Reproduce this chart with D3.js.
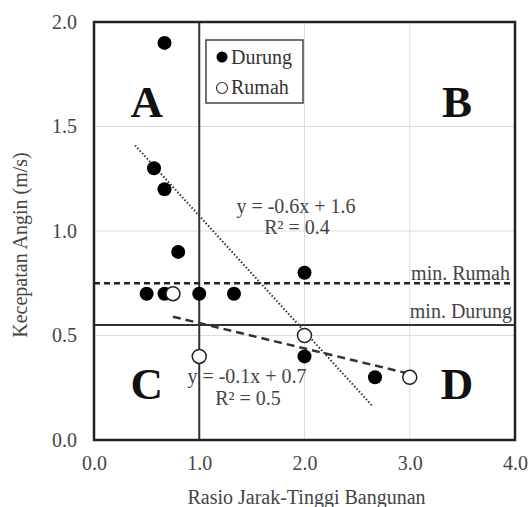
<!DOCTYPE html>
<html><head><meta charset="utf-8">
<script src="https://cdn.jsdelivr.net/npm/d3@7"></script>
<style>body{margin:0;background:#fff}svg{display:block}</style>
</head><body>
<script>
const durungX = [0.67, 0.57, 0.67, 0.80, 0.50, 0.67, 1.00, 1.33, 2.00, 2.00, 2.67];
const durungY = [1.90, 1.30, 1.20, 0.90, 0.70, 0.70, 0.70, 0.70, 0.80, 0.40, 0.30];
const rumahX = [0.75, 1.00, 2.00, 3.00];
const rumahY = [0.70, 0.40, 0.50, 0.30];
const trendDurung = [[0.39, 1.41], [2.65, 0.16]];
const trendRumah = [[0.75, 0.59], [2.97, 0.32]];
const minRumah = 0.75, minDurung = 0.55, splitX = 1.0;
const xTicks = [0, 1, 2, 3, 4];
const yTicks = [0, 0.5, 1.0, 1.5, 2.0];
const quadrants = [["A", 0.5, 1.55], ["B", 3.45, 1.55], ["C", 0.5, 0.2], ["D", 3.45, 0.2]];

const W = 530, H = 507;
const m = {l: 94, r: 15, t: 22, b: 67};
const FONT = "'Liberation Serif', 'Times New Roman', serif";
const svg = d3.select("body").append("svg").attr("width", W).attr("height", H)
  .style("font-family", FONT);
const x = d3.scaleLinear().domain([0, 4]).range([m.l, W - m.r]);
const y = d3.scaleLinear().domain([0, 2]).range([H - m.b, m.t]);

// grid
svg.append("g").selectAll("line").data(xTicks.slice(1, -1)).join("line")
  .attr("x1", d => x(d)).attr("x2", d => x(d)).attr("y1", y(0)).attr("y2", y(2))
  .attr("stroke", "#ddd").attr("stroke-width", 1);
svg.append("g").selectAll("line").data(yTicks.slice(1, -1)).join("line")
  .attr("y1", d => y(d)).attr("y2", d => y(d)).attr("x1", x(0)).attr("x2", x(4))
  .attr("stroke", "#ddd").attr("stroke-width", 1);

// axes labels via d3 axes
const xa = svg.append("g").attr("transform", `translate(0,${y(0)})`)
  .call(d3.axisBottom(x).tickValues(xTicks).tickFormat(d3.format(".1f")).tickSize(0).tickPadding(16));
const ya = svg.append("g").attr("transform", `translate(${x(0)},0)`)
  .call(d3.axisLeft(y).tickValues(yTicks).tickFormat(d3.format(".1f")).tickSize(0).tickPadding(17));
[xa, ya].forEach(a => {
  a.attr("font-family", FONT).attr("font-size", 20);
  a.select(".domain").remove();
  a.selectAll("text").attr("fill", "#444");
});

// reference lines
svg.append("line").attr("x1", x(splitX)).attr("x2", x(splitX)).attr("y1", y(0)).attr("y2", y(2))
  .attr("stroke", "#333").attr("stroke-width", 2);
svg.append("line").attr("x1", x(0)).attr("x2", x(4)).attr("y1", y(minDurung)).attr("y2", y(minDurung))
  .attr("stroke", "#333").attr("stroke-width", 2);
svg.append("line").attr("x1", x(0)).attr("x2", x(4)).attr("y1", y(minRumah)).attr("y2", y(minRumah))
  .attr("stroke", "#222").attr("stroke-width", 2.5).attr("stroke-dasharray", "6,4");

// frame
svg.append("rect").attr("x", x(0)).attr("y", y(2)).attr("width", x(4) - x(0)).attr("height", y(0) - y(2))
  .attr("fill", "none").attr("stroke", "#222").attr("stroke-width", 2.5);

// trendlines
const line = d3.line().x(d => x(d[0])).y(d => y(d[1]));
svg.append("path").attr("d", line(trendDurung)).attr("fill", "none")
  .attr("stroke", "#333").attr("stroke-width", 2).attr("stroke-dasharray", "1.5,2");
svg.append("path").attr("d", line(trendRumah)).attr("fill", "none")
  .attr("stroke", "#333").attr("stroke-width", 2.5).attr("stroke-dasharray", "8,5");

// points
svg.append("g").selectAll("circle").data(durungX.map((d, i) => [d, durungY[i]])).join("circle")
  .attr("cx", d => x(d[0])).attr("cy", d => y(d[1])).attr("r", 7).attr("fill", "#000");
svg.append("g").selectAll("circle").data(rumahX.map((d, i) => [d, rumahY[i]])).join("circle")
  .attr("cx", d => x(d[0])).attr("cy", d => y(d[1])).attr("r", 7)
  .attr("fill", "#fff").attr("stroke", "#222").attr("stroke-width", 1.5);

// quadrant letters
svg.append("g").selectAll("text").data(quadrants).join("text")
  .attr("x", d => x(d[1])).attr("y", d => y(d[2]) + 1).attr("text-anchor", "middle")
  .attr("font-size", 45).attr("font-weight", "bold").attr("fill", "#111").text(d => d[0]);

// equation labels
const lab = (t, px, py, anchor) => svg.append("text").attr("x", px).attr("y", py)
  .attr("text-anchor", anchor || "middle").attr("font-size", 20).attr("fill", "#444").text(t);
lab("y = -0.6x + 1.6", 296, 213);
lab("R² = 0.4", 297, 234);
lab("y = -0.1x + 0.7", 247, 383);
lab("R² = 0.5", 248, 405);
lab("min. Rumah", 510, 280, "end");
lab("min. Durung", 512, 318, "end");

// legend
svg.append("rect").attr("x", 206).attr("y", 40).attr("width", 97).attr("height", 63)
  .attr("fill", "#fff").attr("stroke", "#444").attr("stroke-width", 1.5);
svg.append("circle").attr("cx", 222).attr("cy", 57).attr("r", 5.5).attr("fill", "#000");
svg.append("circle").attr("cx", 222).attr("cy", 88).attr("r", 5.5).attr("fill", "#fff").attr("stroke", "#333").attr("stroke-width", 1.2);
svg.append("text").attr("x", 231).attr("y", 64).attr("font-size", 20).attr("fill", "#333").text("Durung");
svg.append("text").attr("x", 231).attr("y", 94).attr("font-size", 20).attr("fill", "#333").text("Rumah");

// axis titles
svg.append("text").attr("x", (x(0) + x(4)) / 2 + 2).attr("y", 504).attr("text-anchor", "middle")
  .attr("font-size", 20).attr("fill", "#444").text("Rasio Jarak-Tinggi Bangunan");
svg.append("text").attr("transform", `translate(27,${245}) rotate(-90)`).attr("text-anchor", "middle")
  .attr("font-size", 20).attr("fill", "#444").text("Kecepatan Angin (m/s)");
</script>
</body></html>
